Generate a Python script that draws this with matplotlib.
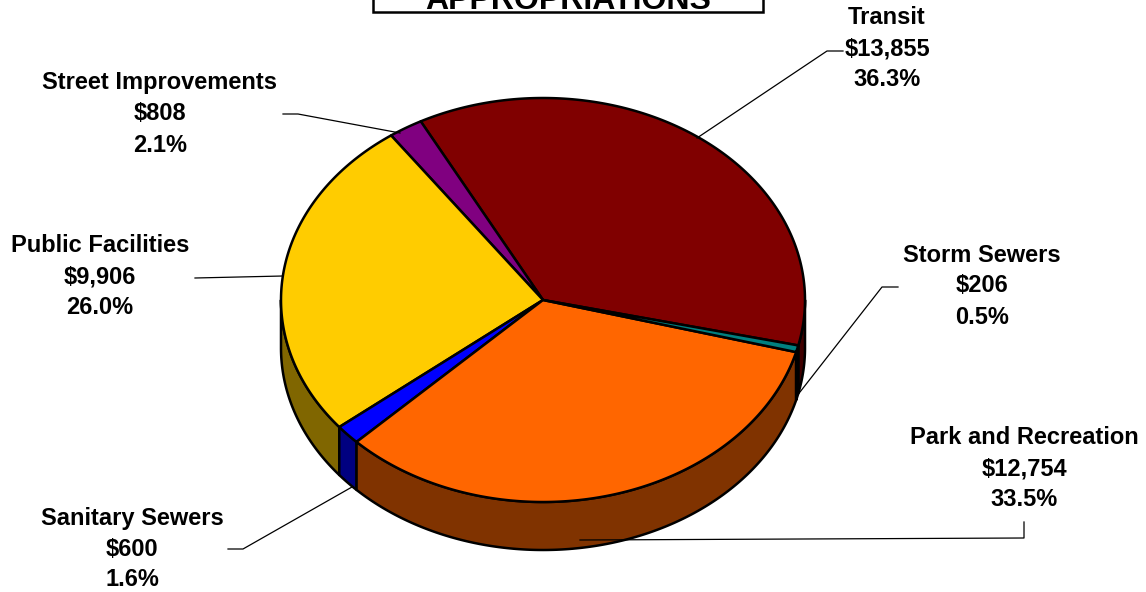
import numpy as np
import matplotlib
matplotlib.use("Agg")
import matplotlib.pyplot as plt
from matplotlib.patches import Polygon, Rectangle

# ---- data (counter-clockwise order, starting at Transit) ----
categories = ["Transit", "Street Improvements", "Public Facilities",
              "Sanitary Sewers", "Park and Recreation", "Storm Sewers"]
values = [13855, 808, 9906, 600, 12754, 206]
percents = [36.3, 2.1, 26.0, 1.6, 33.5, 0.5]
top_colors = ["#800000", "#800080", "#FFCC00", "#0000FF", "#FF6600", "#008080"]
side_colors = ["#400000", "#400040", "#806600", "#000080", "#803300", "#004040"]
title = "APPROPRIATIONS"

# label text centres (pixel coords) and leader lines
label_pos = {
    "Transit": (887, 18),
    "Street Improvements": (160, 83),
    "Public Facilities": (100, 246),
    "Sanitary Sewers": (132, 518),
    "Park and Recreation": (1024, 438),
    "Storm Sewers": (982, 255),
}
leaders = {
    "Transit": [(843, 51), (827, 51), (697, 138)],
    "Street Improvements": [(283, 114), (298, 114), (400, 133)],
    "Public Facilities": [(195, 278), (283, 276)],
    "Sanitary Sewers": [(228, 549), (243, 549), (352, 487)],
    "Park and Recreation": [(1024, 522), (1024, 538), (580, 540)],
    "Storm Sewers": [(898, 287), (882, 287), (800, 392)],
}

# ---- geometry ----
W, H = 1146, 592
CX, CY, RX, RY, DEPTH = 543, 300, 262, 202, 48
START = -13.0

fig = plt.figure(figsize=(W / 100, H / 100), dpi=100)
ax = fig.add_axes([0, 0, 1, 1])
ax.set_xlim(0, W)
ax.set_ylim(H, 0)
ax.axis("off")

total = float(sum(values))
angles = np.cumsum([0] + [v / total * 360 for v in values]) + START


def arc(t1, t2, dy=0.0, n=200):
    t = np.radians(np.linspace(t1, t2, n))
    return np.column_stack([CX + RX * np.cos(t), CY - RY * np.sin(t) + dy])


EDGE_LW = 1.8
# side walls (front half only)
for i in range(len(values)):
    a, b = angles[i], angles[i + 1]
    a0 = a % 360
    b0 = a0 + (b - a)
    for lo, hi in [(180, 360), (540, 720)]:
        s, e = max(a0, lo), min(b0, hi)
        if e > s:
            top = arc(s, e)
            bot = arc(e, s, DEPTH)
            ax.add_patch(Polygon(np.vstack([top, bot]), closed=True,
                                 facecolor=side_colors[i], edgecolor="black",
                                 lw=EDGE_LW, joinstyle="round", zorder=2))

# top faces
for i in range(len(values)):
    pts = np.vstack([[CX, CY], arc(angles[i], angles[i + 1])])
    ax.add_patch(Polygon(pts, closed=True, facecolor=top_colors[i],
                         edgecolor="black", lw=EDGE_LW, joinstyle="round",
                         zorder=3))

# labels
font = dict(family="Liberation Sans", weight="bold", size=17, color="black")
LINE = 31
for i, c in enumerate(categories):
    x, y = label_pos[c]
    lines = [c, "${:,}".format(values[i]), "{:.1f}%".format(percents[i])]
    for k, s in enumerate(lines):
        ax.text(x, y + k * LINE, s, ha="center", va="center", zorder=5, **font)
    pts = np.array(leaders[c])
    ax.plot(pts[:, 0], pts[:, 1], color="black", lw=0.9, zorder=4)

# title box (cut off at the top, as in the original)
ax.add_patch(Rectangle((373, -20), 390, 32, facecolor="white",
                       edgecolor="black", lw=1.8, zorder=5))
ax.text(568, 9, title, ha="center", va="baseline", family="Liberation Sans",
        weight="bold", size=23, color="black", zorder=6)

fig.savefig("out.png", dpi=100)
